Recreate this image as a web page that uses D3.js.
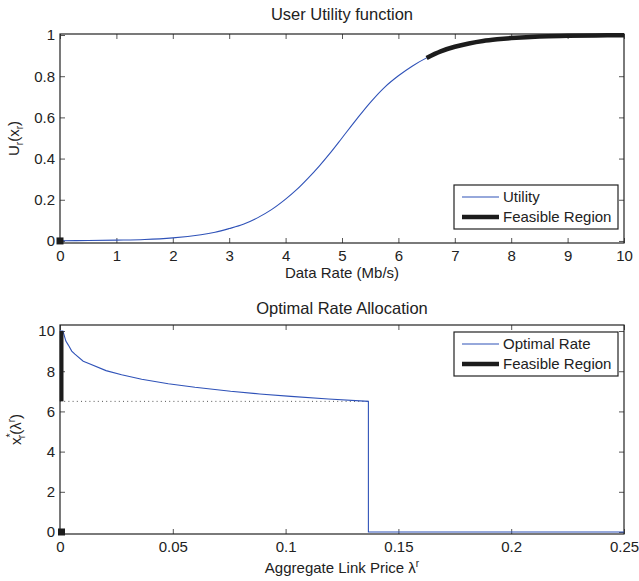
<!DOCTYPE html>
<html>
<head>
<meta charset="utf-8">
<script src="https://cdn.jsdelivr.net/npm/d3@7"></script>
<style>
    body { margin: 0; background: #fff; }
    svg text { font-family: "Liberation Sans", Arial, sans-serif; fill: #222; }
</style>
</head>
<body>
<svg id="chart"></svg>
<script>
// top panel: utility vs data rate
let rateValues = [0, 0.5, 1, 1.5, 2, 2.5, 2.75, 3, 3.25, 3.5, 3.75, 4, 4.2, 4.4, 4.6, 4.8, 5, 5.25, 5.5, 5.75, 6, 6.25, 6.5, 6.75, 7, 7.25, 7.5, 7.75, 8, 8.5, 9, 9.5, 10];
let utilityValues = [0.001, 0.002, 0.004, 0.007, 0.015, 0.03, 0.042, 0.06, 0.081, 0.112, 0.152, 0.203, 0.25, 0.305, 0.365, 0.43, 0.5, 0.588, 0.672, 0.745, 0.802, 0.85, 0.889, 0.921, 0.943, 0.959, 0.971, 0.979, 0.985, 0.993, 0.996, 0.998, 0.999];
let feasibleMin = 6.5;
let feasibleMax = 10;

// bottom panel: optimal rate vs aggregate link price
let priceValues = [0, 0.0013, 0.0026, 0.0037, 0.0052, 0.0066, 0.0103, 0.0125, 0.0204, 0.0273, 0.0362, 0.048, 0.0598, 0.0756, 0.0885, 0.1023, 0.119, 0.1367, 0.1367, 0.25];
let optimalRateValues = [10, 10, 9.5, 9.3, 9.0, 8.85, 8.5, 8.4, 8.03, 7.82, 7.6, 7.38, 7.2, 7.0, 6.87, 6.75, 6.62, 6.5, 0, 0];
let cutoffPrice = 0.1367;

// ticks
let topXTicks = [0, 1, 2, 3, 4, 5, 6, 7, 8, 9, 10];
let topYTicks = [0, 0.2, 0.4, 0.6, 0.8, 1];
let bottomXTicks = [0, 0.05, 0.1, 0.15, 0.2, 0.25];
let bottomYTicks = [0, 2, 4, 6, 8, 10];

let width = 639;
let height = 581;
let blue = "#2f52b8";
let dark = "#1c1c1c";
let axisColor = "#222";

let svg = d3.select("#chart").attr("width", width).attr("height", height);

let topBox = { left: 60, right: 624, top: 34, bottom: 243 };
let bottomBox = { left: 60, right: 624, top: 325, bottom: 534 };

let xTop = d3.scaleLinear().domain([0, 10]).range([topBox.left, topBox.right]);
let yTop = d3.scaleLinear().domain([-0.01, 1.005]).range([topBox.bottom, topBox.top]);
let xBot = d3.scaleLinear().domain([0, 0.25]).range([bottomBox.left, bottomBox.right]);
let yBot = d3.scaleLinear().domain([-0.1, 10.3]).range([bottomBox.bottom, bottomBox.top]);

function drawFrame(box, x, y, xTicks, yTicks) {
    let g = svg.append("g");
    let fmt = d => String(d);

    // ticks pointing in on all four sides, labels only left/bottom
    g.append("g")
        .attr("transform", "translate(0," + box.bottom + ")")
        .call(d3.axisBottom(x).tickValues(xTicks).tickFormat(fmt).tickSizeInner(-5).tickSizeOuter(0).tickPadding(7));
    g.append("g")
        .attr("transform", "translate(0," + box.top + ")")
        .call(d3.axisTop(x).tickValues(xTicks).tickFormat("").tickSizeInner(-5).tickSizeOuter(0));
    g.append("g")
        .attr("transform", "translate(" + box.left + ",0)")
        .call(d3.axisLeft(y).tickValues(yTicks).tickFormat(fmt).tickSizeInner(-5).tickSizeOuter(0).tickPadding(5));
    g.append("g")
        .attr("transform", "translate(" + box.right + ",0)")
        .call(d3.axisRight(y).tickValues(yTicks).tickFormat("").tickSizeInner(-5).tickSizeOuter(0));

    g.selectAll(".domain").remove();
    g.selectAll(".tick line").attr("stroke", "#555");
    g.selectAll(".tick text")
        .style("font-size", "15px")
        .style("font-family", "'Liberation Sans', Arial, sans-serif")
        .attr("fill", axisColor);

    g.append("rect")
        .attr("x", box.left)
        .attr("y", box.top)
        .attr("width", box.right - box.left)
        .attr("height", box.bottom - box.top)
        .attr("fill", "none")
        .attr("stroke", axisColor)
        .attr("stroke-width", 1.2);
}

function drawLegend(box, firstLabel) {
    let g = svg.append("g");
    g.append("rect")
        .attr("x", box.x)
        .attr("y", box.y)
        .attr("width", 164)
        .attr("height", 44)
        .attr("fill", "#fff")
        .attr("stroke", axisColor)
        .attr("stroke-width", 1.2);
    g.append("line")
        .attr("x1", box.x + 8).attr("x2", box.x + 45)
        .attr("y1", box.y + 12).attr("y2", box.y + 12)
        .attr("stroke", blue).attr("stroke-width", 1.2);
    g.append("line")
        .attr("x1", box.x + 8).attr("x2", box.x + 45)
        .attr("y1", box.y + 32).attr("y2", box.y + 32)
        .attr("stroke", dark).attr("stroke-width", 4.5);
    g.append("text")
        .attr("x", box.x + 49).attr("y", box.y + 17)
        .style("font-size", "15px")
        .text(firstLabel);
    g.append("text")
        .attr("x", box.x + 49).attr("y", box.y + 37)
        .style("font-size", "15px")
        .text("Feasible Region");
}

// ---------- top panel ----------
drawFrame(topBox, xTop, yTop, topXTicks, topYTicks);

let utilityData = rateValues.map((r, i) => ({ x: r, y: utilityValues[i] }));
let topLine = d3.line()
    .x(d => xTop(d.x))
    .y(d => yTop(d.y))
    .curve(d3.curveCatmullRom);

svg.append("path")
    .datum(utilityData)
    .attr("d", topLine)
    .attr("fill", "none")
    .attr("stroke", blue)
    .attr("stroke-width", 1.1);

svg.append("path")
    .datum(utilityData.filter(d => d.x >= feasibleMin && d.x <= feasibleMax))
    .attr("d", topLine)
    .attr("fill", "none")
    .attr("stroke", dark)
    .attr("stroke-width", 4.5);

svg.append("rect")
    .attr("x", xTop(0) - 3.5)
    .attr("y", yTop(0) - 3.5)
    .attr("width", 7)
    .attr("height", 7)
    .attr("fill", dark);

drawLegend({ x: 454, y: 185 }, "Utility");

svg.append("text")
    .attr("x", (topBox.left + topBox.right) / 2)
    .attr("y", 20)
    .attr("text-anchor", "middle")
    .style("font-size", "16.5px")
    .text("User Utility function");

svg.append("text")
    .attr("x", (topBox.left + topBox.right) / 2)
    .attr("y", 278)
    .attr("text-anchor", "middle")
    .style("font-size", "15px")
    .text("Data Rate (Mb/s)");

let uLabel = svg.append("text")
    .attr("transform", "translate(19," + (topBox.top + topBox.bottom) / 2 + ") rotate(-90)")
    .attr("text-anchor", "middle")
    .style("font-size", "15px");
uLabel.append("tspan").text("U");
uLabel.append("tspan").attr("dy", 4).style("font-size", "10px").text("r");
uLabel.append("tspan").attr("dy", -4).text("(x");
uLabel.append("tspan").attr("dy", 4).style("font-size", "10px").text("r");
uLabel.append("tspan").attr("dy", -4).text(")");

// ---------- bottom panel ----------
drawFrame(bottomBox, xBot, yBot, bottomXTicks, bottomYTicks);

// dotted guide at the lower edge of the feasible region
svg.append("line")
    .attr("x1", xBot(0))
    .attr("x2", xBot(cutoffPrice))
    .attr("y1", yBot(feasibleMin))
    .attr("y2", yBot(feasibleMin))
    .attr("stroke", "#555")
    .attr("stroke-width", 1)
    .attr("stroke-dasharray", "1,3.2");

let rateData = priceValues.map((p, i) => ({ x: p, y: optimalRateValues[i] }));
let bottomLine = d3.line()
    .x(d => xBot(d.x))
    .y(d => yBot(d.y));

svg.append("path")
    .datum(rateData)
    .attr("d", bottomLine)
    .attr("fill", "none")
    .attr("stroke", blue)
    .attr("stroke-width", 1.1);

svg.append("line")
    .attr("x1", xBot(0) + 1.6)
    .attr("x2", xBot(0) + 1.6)
    .attr("y1", yBot(feasibleMin))
    .attr("y2", yBot(feasibleMax))
    .attr("stroke", dark)
    .attr("stroke-width", 3.8);

svg.append("rect")
    .attr("x", xBot(0) - 2)
    .attr("y", yBot(0) - 3.5)
    .attr("width", 7)
    .attr("height", 7)
    .attr("fill", dark);

drawLegend({ x: 454, y: 332 }, "Optimal Rate");

svg.append("text")
    .attr("x", (bottomBox.left + bottomBox.right) / 2)
    .attr("y", 314)
    .attr("text-anchor", "middle")
    .style("font-size", "16.5px")
    .text("Optimal Rate Allocation");

let priceLabel = svg.append("text")
    .attr("x", (bottomBox.left + bottomBox.right) / 2)
    .attr("y", 573)
    .attr("text-anchor", "middle")
    .style("font-size", "15px");
priceLabel.append("tspan").text("Aggregate Link Price λ");
priceLabel.append("tspan").attr("dy", -6).style("font-size", "10px").text("r");

let xLabel = svg.append("text")
    .attr("transform", "translate(21," + (bottomBox.top + bottomBox.bottom) / 2 + ") rotate(-90)")
    .attr("text-anchor", "middle")
    .style("font-size", "15px");
xLabel.append("tspan").text("x");
xLabel.append("tspan").attr("dy", -7).style("font-size", "11px").text("*");
xLabel.append("tspan").attr("dx", -5).attr("dy", 11).style("font-size", "10px").text("r");
xLabel.append("tspan").attr("dy", -4).text("(λ");
xLabel.append("tspan").attr("dy", -6).style("font-size", "10px").text("r");
xLabel.append("tspan").attr("dy", 6).text(")");
</script>
</body>
</html>
